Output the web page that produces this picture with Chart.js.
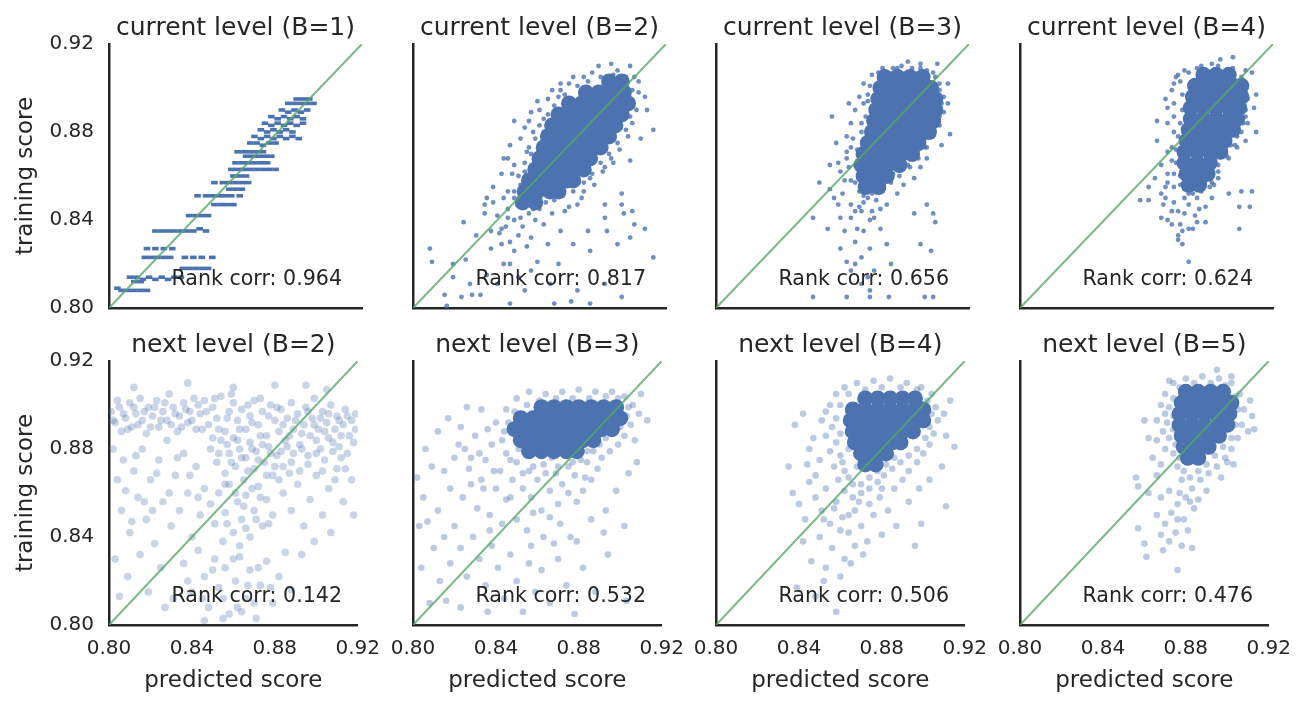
<!DOCTYPE html>
<html>
<head>
<meta charset="utf-8">
<script src="https://cdn.jsdelivr.net/npm/chart.js@4.4.1/dist/chart.umd.min.js"></script>
<style>
    html, body { margin: 0; padding: 0; background: #fff; width: 1310px; height: 708px; overflow: hidden; }
    #wrap { position: relative; width: 1310px; height: 708px; }
    canvas { position: absolute; }
</style>
</head>
<body>
<div id="wrap"></div>
<script>
// Axis ticks and reference line
const tickValues = [0.80, 0.84, 0.88, 0.92];
const diagonal = [0.80, 0.92];

const panelTitles = [
    'current level (B=1)', 'current level (B=2)', 'current level (B=3)', 'current level (B=4)',
    'next level (B=2)', 'next level (B=3)', 'next level (B=4)', 'next level (B=5)'
];
const rankCorr = [0.964, 0.817, 0.656, 0.624, 0.142, 0.532, 0.506, 0.476];

// [predicted, training] pairs
const curB1 = [
    [0.804,0.809],[0.806,0.808],[0.809,0.808],[0.812,0.808],[0.815,0.808],[0.818,0.808],
    [0.810,0.814],[0.812,0.812],[0.813,0.814],[0.815,0.812],[0.816,0.813],[0.819,0.814],[0.822,0.813],[0.825,0.814],[0.828,0.813],[0.831,0.814],[0.834,0.814],
    [0.835,0.818],[0.838,0.818],[0.841,0.818],[0.844,0.818],[0.847,0.818],
    [0.817,0.823],[0.820,0.823],[0.823,0.823],[0.826,0.823],[0.829,0.823],[0.836,0.823],[0.840,0.823],[0.844,0.823],[0.849,0.823],
    [0.818,0.827],[0.822,0.827],[0.826,0.827],[0.830,0.827],
    [0.822,0.835],[0.825,0.835],[0.828,0.835],[0.831,0.835],[0.834,0.835],[0.837,0.835],[0.840,0.835],[0.843,0.836],[0.846,0.835],
    [0.838,0.842],[0.841,0.842],[0.844,0.842],[0.847,0.842],
    [0.850,0.847],[0.853,0.847],[0.856,0.847],[0.859,0.847],
    [0.842,0.851],[0.846,0.851],[0.849,0.851],[0.852,0.851],[0.855,0.851],[0.858,0.851],[0.862,0.851],
    [0.857,0.854],[0.860,0.854],[0.863,0.854],
    [0.850,0.857],[0.854,0.857],[0.857,0.857],[0.860,0.857],[0.863,0.857],[0.866,0.857],
    [0.859,0.860],[0.862,0.860],[0.865,0.860],
    [0.858,0.863],[0.861,0.863],[0.864,0.863],[0.867,0.863],[0.870,0.863],[0.873,0.863],[0.876,0.863],[0.879,0.863],
    [0.860,0.866],[0.863,0.866],[0.866,0.866],[0.869,0.866],[0.872,0.866],[0.875,0.866],
    [0.865,0.869],[0.868,0.869],[0.871,0.869],[0.874,0.869],[0.877,0.869],
    [0.861,0.871],[0.864,0.871],[0.867,0.871],[0.870,0.871],[0.873,0.871],
    [0.867,0.875],[0.870,0.875],[0.873,0.874],[0.876,0.875],[0.879,0.875],
    [0.869,0.878],[0.872,0.877],[0.875,0.878],[0.878,0.877],[0.881,0.878],[0.884,0.877],[0.887,0.878],[0.890,0.877],
    [0.872,0.881],[0.875,0.880],[0.878,0.881],[0.881,0.880],[0.884,0.881],[0.887,0.880],
    [0.874,0.884],[0.877,0.883],[0.880,0.884],[0.883,0.883],[0.886,0.884],[0.889,0.883],[0.892,0.884],
    [0.877,0.887],[0.880,0.886],[0.883,0.887],[0.886,0.886],[0.889,0.887],[0.892,0.886],
    [0.882,0.890],[0.885,0.889],[0.888,0.890],[0.891,0.889],[0.894,0.890],
    [0.885,0.893],[0.888,0.893],[0.891,0.893],[0.894,0.893],[0.897,0.893],
    [0.889,0.895],[0.892,0.895],[0.895,0.895]
];

const curB2Core = [
    [0.893,0.903],[0.899,0.903],
    [0.882,0.898],[0.888,0.898],[0.894,0.898],[0.900,0.898],
    [0.874,0.893],[0.880,0.893],[0.886,0.893],[0.892,0.893],[0.898,0.893],[0.902,0.893],
    [0.869,0.888],[0.875,0.888],[0.881,0.888],[0.887,0.888],[0.893,0.888],[0.899,0.888],
    [0.866,0.883],[0.872,0.883],[0.878,0.883],[0.884,0.883],[0.890,0.883],[0.896,0.883],
    [0.864,0.878],[0.870,0.878],[0.876,0.878],[0.882,0.878],[0.888,0.878],[0.893,0.878],
    [0.862,0.873],[0.868,0.873],[0.874,0.873],[0.880,0.873],[0.886,0.873],[0.889,0.873],
    [0.860,0.868],[0.866,0.868],[0.872,0.868],[0.878,0.868],[0.884,0.868],
    [0.858,0.863],[0.864,0.863],[0.870,0.863],[0.876,0.863],[0.881,0.863],
    [0.855,0.858],[0.861,0.858],[0.867,0.858],[0.873,0.858],[0.876,0.858],
    [0.853,0.853],[0.859,0.853],[0.865,0.853],[0.869,0.853],
    [0.852,0.848],[0.858,0.848]
];
const curB2 = [
    [0.808,0.827],[0.809,0.821],[0.819,0.820],[0.825,0.822],[0.816,0.801],[0.815,0.806],[0.824,0.839],[0.830,0.833],
    [0.834,0.843],[0.838,0.848],[0.837,0.835],[0.842,0.829],[0.843,0.820],[0.848,0.826],[0.850,0.814],[0.853,0.808],
    [0.840,0.811],[0.832,0.806],[0.828,0.806],[0.823,0.805],[0.846,0.802],[0.859,0.821],[0.864,0.829],[0.870,0.835],
    [0.869,0.820],[0.876,0.829],[0.883,0.835],[0.884,0.826],[0.891,0.847],[0.892,0.835],[0.899,0.852],[0.900,0.843],
    [0.904,0.844],[0.905,0.838],[0.910,0.836],[0.914,0.823],[0.899,0.805],[0.884,0.802],[0.875,0.803],[0.867,0.802],
    [0.891,0.864],[0.894,0.868],[0.903,0.867],[0.908,0.877],[0.914,0.881],[0.911,0.890],[0.910,0.896],[0.907,0.903],
    [0.903,0.910],[0.894,0.911],[0.888,0.910],[0.881,0.905],[0.870,0.899],[0.869,0.896],[0.859,0.894],[0.856,0.889],
    [0.848,0.885],[0.853,0.882],[0.846,0.874],[0.843,0.868],[0.848,0.865],[0.842,0.861],[0.838,0.855],[0.835,0.850],
    [0.834,0.847],[0.845,0.853],[0.854,0.871],[0.862,0.880],[0.884,0.859],[0.881,0.853],[0.878,0.847],[0.872,0.844],
    [0.862,0.838],[0.856,0.832],[0.851,0.841],[0.845,0.841],[0.842,0.836],[0.837,0.827],[0.846,0.820],[0.856,0.817],
    [0.835,0.815],[0.827,0.811],[0.819,0.814],[0.865,0.811],[0.878,0.808],[0.891,0.811],[0.897,0.829],[0.903,0.832],
    [0.891,0.841],[0.899,0.847],
    [0.860,0.890],[0.864,0.895],[0.870,0.902],[0.876,0.905],[0.885,0.907],[0.897,0.908],[0.905,0.905],[0.907,0.898],
    [0.906,0.890],[0.904,0.884],[0.902,0.878],[0.898,0.872],[0.895,0.866],[0.890,0.862],[0.886,0.856],[0.880,0.850],
    [0.874,0.846],[0.866,0.843],[0.857,0.845],[0.851,0.848],[0.848,0.853],[0.850,0.860],[0.853,0.866],[0.855,0.873],
    [0.857,0.880],[0.862,0.886],
    [0.845,0.845],[0.848,0.840],[0.852,0.837],[0.855,0.843],[0.858,0.840],[0.844,0.837],[0.840,0.842],[0.850,0.833],
    [0.846,0.830],[0.841,0.834],[0.854,0.828],[0.860,0.845],[0.863,0.848],[0.867,0.849],[0.871,0.851],[0.876,0.853],
    [0.881,0.857],[0.885,0.861],[0.889,0.866],[0.893,0.870],[0.897,0.875],[0.901,0.881],[0.903,0.887],[0.904,0.893],
    [0.904,0.899],[0.901,0.905],[0.895,0.906],[0.889,0.905],[0.883,0.903],[0.878,0.901],[0.872,0.897],[0.867,0.892],
    [0.864,0.888],[0.860,0.883],[0.858,0.877],[0.856,0.870],[0.853,0.862],[0.851,0.856],[0.848,0.850],[0.843,0.850],
    [0.847,0.861],[0.845,0.868],[0.851,0.877],[0.855,0.885],[0.866,0.899],[0.874,0.902]
];

const curB3Core = [
    [0.880,0.905],[0.886,0.905],[0.892,0.905],[0.898,0.905],
    [0.878,0.900],[0.884,0.900],[0.890,0.900],[0.896,0.900],[0.902,0.900],
    [0.877,0.895],[0.883,0.895],[0.889,0.895],[0.895,0.895],[0.901,0.895],[0.904,0.895],
    [0.876,0.890],[0.882,0.890],[0.888,0.890],[0.894,0.890],[0.900,0.890],[0.904,0.890],
    [0.875,0.885],[0.881,0.885],[0.887,0.885],[0.893,0.885],[0.899,0.885],[0.903,0.885],
    [0.874,0.880],[0.880,0.880],[0.886,0.880],[0.892,0.880],[0.898,0.880],[0.901,0.880],
    [0.872,0.875],[0.878,0.875],[0.884,0.875],[0.890,0.875],[0.896,0.875],
    [0.870,0.870],[0.876,0.870],[0.882,0.870],[0.888,0.870],[0.893,0.870],
    [0.869,0.865],[0.875,0.865],[0.881,0.865],[0.887,0.865],
    [0.870,0.860],[0.876,0.860],[0.881,0.860],
    [0.871,0.855],[0.877,0.855]
];
const curB3 = [
    [0.872,0.850],[0.878,0.853],[0.869,0.844],[0.875,0.841],[0.864,0.841],[0.861,0.835],[0.870,0.835],[0.878,0.836],
    [0.866,0.830],[0.873,0.827],[0.869,0.823],[0.862,0.821],[0.864,0.817],[0.872,0.814],[0.869,0.811],[0.873,0.808],
    [0.873,0.805],[0.882,0.805],[0.862,0.805],[0.846,0.805],[0.899,0.805],[0.903,0.805],[0.881,0.829],[0.859,0.841],
    [0.853,0.836],[0.846,0.841],[0.849,0.857],[0.854,0.854],[0.858,0.847],[0.856,0.850],[0.861,0.858],[0.859,0.862],
    [0.862,0.868],[0.864,0.873],[0.865,0.877],[0.869,0.884],[0.870,0.893],[0.872,0.897],[0.863,0.893],[0.855,0.887],
    [0.857,0.875],[0.854,0.865],[0.881,0.847],[0.886,0.852],[0.889,0.856],[0.894,0.859],[0.900,0.868],[0.907,0.874],
    [0.911,0.879],[0.910,0.893],[0.910,0.902],[0.905,0.911],[0.897,0.911],[0.891,0.912],[0.886,0.909],[0.878,0.905],
    [0.900,0.847],[0.903,0.843],[0.904,0.839],[0.897,0.829],[0.902,0.826],[0.894,0.843],[0.883,0.820],[0.875,0.817],
    [0.866,0.820],[0.859,0.827],[0.864,0.847],[0.868,0.863],[0.891,0.865],[0.897,0.864],[0.899,0.873],
    [0.866,0.857],[0.872,0.855],[0.878,0.858],[0.884,0.861],[0.888,0.864],[0.893,0.868],[0.896,0.872],[0.899,0.877],
    [0.903,0.882],[0.906,0.887],[0.907,0.893],[0.906,0.899],[0.904,0.905],[0.900,0.908],[0.893,0.909],[0.884,0.909],
    [0.877,0.907],[0.873,0.901],[0.872,0.894],[0.871,0.887],[0.869,0.880],[0.867,0.872],[0.866,0.865],[0.870,0.851],
    [0.876,0.849],[0.868,0.846],[0.874,0.844],
    [0.862,0.878],[0.864,0.884],[0.866,0.890],[0.868,0.896],[0.870,0.902],[0.874,0.906],[0.879,0.909],[0.888,0.910],
    [0.897,0.909],[0.903,0.907],[0.906,0.902],[0.908,0.896],[0.908,0.889],[0.906,0.883],[0.903,0.878],[0.900,0.873],
    [0.896,0.868],[0.892,0.864],[0.887,0.860],[0.883,0.857],[0.879,0.853],[0.874,0.852],[0.868,0.853],[0.864,0.858],
    [0.863,0.864],[0.862,0.871],[0.870,0.848],[0.866,0.844],[0.873,0.840],[0.878,0.845],[0.867,0.836],[0.860,0.852],
    [0.858,0.866]
];

const curB4Core = [
    [0.887,0.906],[0.893,0.906],[0.899,0.906],
    [0.883,0.901],[0.889,0.901],[0.895,0.901],[0.901,0.901],[0.905,0.901],
    [0.882,0.896],[0.888,0.896],[0.894,0.896],[0.900,0.896],[0.905,0.896],
    [0.881,0.891],[0.887,0.891],[0.893,0.891],[0.899,0.891],[0.904,0.891],
    [0.881,0.886],[0.887,0.886],[0.893,0.886],[0.899,0.886],[0.903,0.886],
    [0.880,0.881],[0.886,0.881],[0.892,0.881],[0.898,0.881],[0.901,0.881],
    [0.879,0.876],[0.885,0.876],[0.891,0.876],[0.897,0.876],
    [0.878,0.871],[0.884,0.871],[0.890,0.871],[0.895,0.871],
    [0.878,0.866],[0.884,0.866],[0.890,0.866],
    [0.879,0.861],[0.885,0.861],[0.889,0.861],
    [0.880,0.856],[0.885,0.856]
];
const curB4 = [
    [0.857,0.849],[0.861,0.849],[0.864,0.859],[0.861,0.855],[0.869,0.855],[0.869,0.850],[0.868,0.847],[0.872,0.844],
    [0.870,0.840],[0.875,0.844],[0.876,0.838],[0.880,0.836],[0.882,0.836],[0.884,0.839],[0.888,0.839],[0.875,0.833],
    [0.877,0.829],[0.877,0.835],[0.880,0.821],[0.875,0.831],[0.891,0.850],[0.890,0.855],[0.894,0.859],[0.888,0.858],
    [0.899,0.852],[0.905,0.853],[0.910,0.853],[0.904,0.846],[0.909,0.846],[0.904,0.836],[0.867,0.865],[0.870,0.871],
    [0.865,0.876],[0.870,0.884],[0.865,0.885],[0.870,0.891],[0.869,0.895],[0.873,0.902],[0.875,0.906],[0.884,0.909],
    [0.891,0.911],[0.895,0.913],[0.901,0.914],[0.907,0.908],[0.910,0.907],[0.912,0.897],[0.911,0.891],[0.912,0.880],
    [0.908,0.884],[0.907,0.876],[0.903,0.873],[0.899,0.868],[0.894,0.865],[0.870,0.861],[0.873,0.855],[0.881,0.855],
    [0.884,0.850],[0.878,0.850],[0.867,0.841],[0.888,0.846],[0.892,0.856],
    [0.874,0.905],[0.878,0.908],[0.906,0.903],[0.908,0.895],[0.907,0.887],[0.905,0.880],[0.902,0.874],[0.898,0.869],
    [0.894,0.862],[0.891,0.857],[0.876,0.860],[0.874,0.866],[0.874,0.872],[0.875,0.878],[0.876,0.884],[0.877,0.890],
    [0.877,0.897],[0.882,0.852],[0.886,0.853],[0.878,0.854],
    [0.872,0.899],[0.873,0.893],[0.873,0.887],[0.873,0.880],[0.872,0.873],[0.872,0.867],[0.873,0.861],[0.876,0.856],
    [0.880,0.852],[0.884,0.857],[0.888,0.862],[0.892,0.866],[0.896,0.870],[0.900,0.874],[0.903,0.878],[0.906,0.884],
    [0.907,0.890],[0.907,0.898],[0.905,0.905],[0.901,0.909],[0.894,0.910],[0.886,0.910],[0.880,0.907],[0.876,0.903],
    [0.870,0.857],[0.867,0.852],[0.873,0.848],[0.878,0.843],[0.872,0.838],[0.880,0.847],[0.885,0.845],[0.883,0.842]
];

const nextB2 = [
    [0.801,0.897],[0.803,0.892],[0.805,0.899],[0.806,0.888],[0.808,0.894],[0.810,0.901],[0.811,0.890],[0.813,0.896],
    [0.815,0.903],[0.816,0.893],[0.818,0.887],[0.819,0.899],[0.821,0.895],[0.823,0.902],[0.824,0.890],[0.826,0.897],
    [0.828,0.893],[0.829,0.905],[0.831,0.899],[0.833,0.888],[0.834,0.895],[0.836,0.901],[0.838,0.892],[0.839,0.897],
    [0.841,0.903],[0.842,0.889],
    [0.844,0.896],[0.846,0.902],[0.848,0.891],[0.850,0.899],[0.852,0.894],[0.854,0.904],[0.856,0.888],[0.858,0.897],
    [0.860,0.901],[0.862,0.893],[0.864,0.898],[0.866,0.889],[0.868,0.895],[0.870,0.902],[0.872,0.891],[0.874,0.897],
    [0.876,0.886],[0.878,0.900],
    [0.880,0.893],[0.882,0.888],[0.883,0.898],[0.885,0.884],[0.886,0.894],[0.888,0.901],[0.889,0.889],[0.891,0.896],
    [0.892,0.882],[0.894,0.891],[0.895,0.899],[0.897,0.886],[0.898,0.894],[0.899,0.903],[0.901,0.889],[0.902,0.880],
    [0.903,0.897],[0.905,0.892],[0.906,0.885],[0.907,0.900],[0.909,0.889],[0.910,0.895],[0.911,0.881],[0.913,0.891],
    [0.914,0.898],[0.916,0.886],[0.917,0.893],[0.919,0.889],[0.896,0.877],[0.904,0.875],[0.912,0.876],[0.889,0.878],
    [0.849,0.880],[0.852,0.874],[0.854,0.884],[0.856,0.869],[0.858,0.878],[0.860,0.885],[0.861,0.872],[0.863,0.880],
    [0.865,0.866],[0.866,0.876],[0.868,0.883],[0.870,0.871],[0.871,0.879],[0.873,0.886],[0.875,0.874],[0.877,0.881],
    [0.879,0.868],[0.881,0.877],[0.884,0.872],[0.887,0.869],
    [0.846,0.862],[0.849,0.855],[0.851,0.846],[0.853,0.860],[0.856,0.851],[0.858,0.864],[0.860,0.842],[0.862,0.856],
    [0.864,0.848],[0.866,0.859],[0.868,0.840],[0.870,0.852],[0.872,0.863],[0.874,0.845],[0.876,0.857],[0.879,0.850],
    [0.855,0.838],[0.863,0.836],
    [0.836,0.828],[0.840,0.815],[0.843,0.834],[0.846,0.822],[0.848,0.808],[0.851,0.830],[0.853,0.817],[0.856,0.826],
    [0.858,0.805],[0.861,0.820],[0.863,0.831],[0.866,0.812],[0.868,0.825],[0.871,0.803],[0.873,0.818],[0.876,0.829],
    [0.879,0.810],[0.882,0.822],[0.885,0.833],[0.888,0.816],[0.846,0.802],[0.864,0.806],
    [0.884,0.860],[0.888,0.852],[0.891,0.864],[0.894,0.845],[0.897,0.857],[0.900,0.868],[0.903,0.850],[0.906,0.862],
    [0.910,0.871],[0.913,0.856],[0.917,0.866],[0.899,0.838],[0.907,0.842],[0.893,0.832],[0.918,0.850],
    [0.802,0.880],[0.804,0.866],[0.806,0.852],[0.807,0.875],[0.810,0.842],[0.812,0.870],[0.814,0.858],[0.816,0.880],
    [0.818,0.848],[0.820,0.866],[0.822,0.837],[0.824,0.875],[0.826,0.856],[0.828,0.884],[0.830,0.845],[0.832,0.868],
    [0.834,0.852],[0.836,0.878],[0.838,0.860],[0.840,0.840],[0.842,0.872],[0.844,0.850],[0.803,0.830],[0.809,0.822],
    [0.815,0.832],[0.819,0.815],[0.825,0.826],[0.831,0.812],[0.827,0.808],[0.805,0.813],
    [0.812,0.908],[0.838,0.910],[0.860,0.908],[0.880,0.909],[0.895,0.909],[0.905,0.907],
    [0.802,0.893],[0.804,0.902],[0.807,0.896],[0.809,0.889],[0.812,0.899],[0.814,0.891],[0.817,0.897],[0.820,0.890],
    [0.822,0.899],[0.825,0.893],[0.827,0.901],[0.830,0.891],[0.832,0.896],[0.835,0.890],[0.837,0.898],[0.840,0.893],
    [0.843,0.900],[0.845,0.889],[0.847,0.897],[0.851,0.903],[0.853,0.889],[0.857,0.894],[0.859,0.905],[0.863,0.889],
    [0.867,0.900],[0.869,0.892],[0.873,0.903],[0.877,0.895],
    [0.881,0.899],[0.884,0.891],[0.887,0.886],[0.890,0.893],[0.893,0.887],[0.896,0.897],[0.899,0.891],[0.900,0.884],
    [0.902,0.894],[0.904,0.888],[0.906,0.896],[0.908,0.883],[0.911,0.893],[0.912,0.886],[0.915,0.895],[0.918,0.883],
    [0.893,0.880],[0.900,0.878],[0.908,0.879],[0.886,0.881],[0.915,0.878],[0.919,0.896],
    [0.850,0.885],[0.853,0.878],[0.857,0.882],[0.859,0.874],[0.862,0.884],[0.864,0.876],[0.867,0.870],[0.869,0.880],
    [0.872,0.875],[0.874,0.882],[0.876,0.868],[0.878,0.878],[0.880,0.872],[0.883,0.879],[0.856,0.864],[0.861,0.860],
    [0.865,0.854],[0.869,0.862],[0.873,0.858],[0.857,0.846],[0.866,0.844],[0.871,0.848],[0.877,0.846],[0.882,0.866],
    [0.888,0.874],[0.892,0.870],[0.896,0.873],[0.903,0.870],[0.909,0.866],[0.914,0.871],
    [0.838,0.820],[0.845,0.812],[0.850,0.825],[0.855,0.812],[0.860,0.830],[0.867,0.818],[0.872,0.826],[0.878,0.817],
    [0.855,0.803],[0.870,0.810],[0.862,0.808],
    [0.808,0.861],[0.813,0.877],[0.817,0.856],[0.823,0.869],[0.829,0.860],[0.833,0.876],[0.839,0.868],[0.843,0.858],
    [0.821,0.852],[0.811,0.847]
];

const nextB3Core = [
    [0.862,0.899],[0.868,0.899],[0.874,0.899],[0.880,0.899],[0.886,0.899],[0.892,0.899],[0.898,0.899],
    [0.852,0.894],[0.858,0.894],[0.864,0.894],[0.870,0.894],[0.876,0.894],[0.882,0.894],[0.888,0.894],[0.894,0.894],[0.900,0.894],
    [0.849,0.889],[0.855,0.889],[0.861,0.889],[0.867,0.889],[0.873,0.889],[0.879,0.889],[0.885,0.889],[0.891,0.889],[0.896,0.889],
    [0.852,0.884],[0.858,0.884],[0.864,0.884],[0.870,0.884],[0.876,0.884],[0.882,0.884],[0.887,0.884],
    [0.856,0.879],[0.862,0.879],[0.868,0.879],[0.874,0.879],[0.879,0.879]
];
const nextB3 = [
    [0.825,0.880],[0.830,0.886],[0.835,0.875],[0.838,0.882],[0.842,0.870],[0.845,0.878],[0.848,0.866],[0.850,0.874],
    [0.853,0.862],[0.856,0.870],[0.860,0.866],[0.863,0.873],[0.866,0.861],[0.869,0.869],[0.872,0.864],[0.875,0.872],
    [0.878,0.868],[0.881,0.875],[0.884,0.879],[0.840,0.892],[0.845,0.898],[0.850,0.903],[0.856,0.906],[0.864,0.905],
    [0.872,0.906],[0.880,0.907],[0.888,0.906],[0.896,0.906],[0.902,0.904],[0.906,0.900],[0.909,0.896],[0.905,0.891],
    [0.902,0.886],[0.899,0.882],[0.895,0.879],[0.891,0.876],[0.889,0.871],[0.886,0.866],[0.910,0.905],[0.913,0.893],
    [0.907,0.884],[0.882,0.861],[0.879,0.856],[0.870,0.855],[0.862,0.852],[0.857,0.858],[0.847,0.858],[0.840,0.862],
    [0.833,0.866],[0.827,0.871],[0.820,0.876],[0.815,0.870],[0.818,0.862],[0.824,0.858],[0.831,0.853],[0.837,0.850],
    [0.843,0.846],[0.850,0.848],[0.855,0.843],[0.863,0.840],[0.871,0.846],[0.876,0.840],[0.886,0.848],[0.893,0.852],
    [0.898,0.861],[0.904,0.869],[0.908,0.874],
    [0.802,0.867],[0.805,0.858],[0.807,0.847],[0.810,0.835],[0.812,0.852],[0.815,0.840],[0.818,0.828],[0.820,0.845],
    [0.823,0.835],[0.826,0.822],[0.829,0.840],[0.832,0.830],[0.835,0.818],[0.838,0.836],[0.841,0.826],[0.844,0.812],
    [0.847,0.832],[0.850,0.820],[0.853,0.806],[0.856,0.828],[0.859,0.815],[0.862,0.825],[0.866,0.810],[0.870,0.830],
    [0.874,0.818],[0.878,0.805],[0.882,0.826],[0.888,0.815],[0.894,0.832],[0.902,0.845],[0.903,0.811],[0.804,0.826],
    [0.808,0.810],[0.813,0.820],[0.803,0.845],[0.809,0.872],[0.806,0.880],[0.812,0.888],[0.817,0.894],[0.823,0.890],
    [0.833,0.898],[0.826,0.899],[0.816,0.811],[0.823,0.808],[0.836,0.806],[0.857,0.836],[0.868,0.837],[0.879,0.838],
    [0.892,0.842],
    [0.832,0.878],[0.836,0.889],[0.839,0.870],[0.843,0.884],[0.846,0.892],[0.847,0.875],[0.851,0.880],[0.853,0.869],
    [0.855,0.877],[0.858,0.872],[0.861,0.878],[0.864,0.869],[0.867,0.876],[0.870,0.872],[0.873,0.877],[0.877,0.874],
    [0.880,0.880],[0.884,0.874],[0.887,0.879],[0.890,0.882],[0.893,0.885],[0.897,0.888],[0.900,0.890],[0.903,0.895],
    [0.904,0.899],[0.899,0.903],[0.893,0.904],[0.885,0.903],[0.877,0.903],[0.869,0.903],[0.861,0.902],[0.855,0.900],
    [0.849,0.897],[0.844,0.888],[0.828,0.876],[0.834,0.862],[0.845,0.857],[0.858,0.851],[0.866,0.849],[0.875,0.860],
    [0.883,0.867],[0.828,0.864],[0.822,0.882],[0.837,0.843]
];

const nextB4Core = [
    [0.872,0.903],[0.878,0.903],[0.884,0.903],[0.890,0.903],[0.896,0.903],
    [0.866,0.898],[0.872,0.898],[0.878,0.898],[0.884,0.898],[0.890,0.898],[0.896,0.898],[0.900,0.898],
    [0.865,0.893],[0.871,0.893],[0.877,0.893],[0.883,0.893],[0.889,0.893],[0.895,0.893],[0.900,0.893],
    [0.866,0.888],[0.872,0.888],[0.878,0.888],[0.884,0.888],[0.890,0.888],[0.895,0.888],
    [0.867,0.883],[0.873,0.883],[0.879,0.883],[0.885,0.883],[0.889,0.883],
    [0.870,0.878],[0.876,0.878],[0.882,0.878],
    [0.872,0.873],[0.877,0.873]
];
const nextB4 = [
    [0.855,0.900],[0.858,0.905],[0.862,0.908],[0.868,0.910],[0.876,0.911],[0.884,0.912],[0.892,0.910],[0.899,0.908],
    [0.904,0.905],[0.906,0.899],[0.907,0.893],[0.905,0.887],[0.903,0.882],[0.900,0.878],[0.897,0.874],[0.893,0.870],
    [0.890,0.866],[0.886,0.862],[0.851,0.893],[0.853,0.886],[0.855,0.879],[0.857,0.872],[0.859,0.866],[0.862,0.861],
    [0.866,0.858],[0.870,0.864],[0.874,0.867],[0.878,0.870],[0.882,0.873],[0.886,0.876],[0.861,0.874],[0.864,0.880],
    [0.860,0.887],[0.858,0.894],[0.864,0.867],[0.868,0.872],
    [0.845,0.865],[0.848,0.858],[0.851,0.852],[0.855,0.846],[0.858,0.856],[0.861,0.849],[0.864,0.842],[0.867,0.852],
    [0.870,0.845],[0.873,0.838],[0.876,0.850],[0.879,0.858],[0.883,0.852],[0.887,0.845],[0.850,0.840],[0.856,0.835],
    [0.862,0.830],[0.867,0.836],[0.843,0.848],[0.840,0.855],[0.846,0.829],[0.853,0.826],[0.860,0.822],[0.865,0.828],
    [0.842,0.838],[0.871,0.832],[0.880,0.841],[0.893,0.856],[0.898,0.862],[0.903,0.866],[0.909,0.872],[0.911,0.886],
    [0.910,0.896],
    [0.858,0.806],[0.852,0.820],[0.839,0.817],[0.896,0.836],[0.899,0.846],[0.911,0.854],[0.915,0.881],[0.913,0.902],
    [0.842,0.896],[0.838,0.891],[0.837,0.860],[0.848,0.813],[0.835,0.872],[0.845,0.880],
    [0.853,0.897],[0.856,0.890],[0.858,0.883],[0.860,0.877],[0.862,0.870],[0.866,0.864],[0.870,0.860],[0.874,0.862],
    [0.878,0.865],[0.881,0.868],[0.885,0.871],[0.889,0.874],[0.893,0.877],[0.897,0.880],[0.901,0.885],[0.903,0.890],
    [0.904,0.896],[0.902,0.902],[0.897,0.907],[0.889,0.908],[0.880,0.908],[0.872,0.907],[0.864,0.905],[0.860,0.900],
    [0.850,0.875],[0.848,0.868],[0.853,0.862],[0.857,0.853],[0.864,0.850],[0.869,0.856],[0.874,0.855],[0.880,0.862],
    [0.847,0.885],[0.844,0.873],[0.852,0.848],[0.860,0.843]
];

const nextB5Core = [
    [0.880,0.906],[0.886,0.906],[0.892,0.906],[0.898,0.906],
    [0.878,0.901],[0.884,0.901],[0.890,0.901],[0.896,0.901],[0.902,0.901],
    [0.877,0.896],[0.883,0.896],[0.889,0.896],[0.895,0.896],[0.901,0.896],
    [0.877,0.891],[0.883,0.891],[0.889,0.891],[0.895,0.891],[0.900,0.891],
    [0.878,0.886],[0.884,0.886],[0.890,0.886],[0.896,0.886],
    [0.879,0.881],[0.885,0.881],[0.891,0.881],
    [0.881,0.876],[0.886,0.876]
];
const nextB5 = [
    [0.870,0.905],[0.872,0.899],[0.871,0.892],[0.872,0.885],[0.874,0.878],[0.876,0.872],[0.878,0.866],[0.874,0.910],
    [0.880,0.912],[0.888,0.913],[0.896,0.912],[0.902,0.910],[0.906,0.905],[0.908,0.898],[0.907,0.891],[0.905,0.885],
    [0.902,0.880],[0.899,0.876],[0.895,0.872],[0.891,0.869],[0.887,0.866],[0.883,0.862],[0.880,0.858],[0.876,0.855],
    [0.873,0.851],[0.879,0.848],[0.884,0.853],[0.870,0.846],[0.875,0.842],[0.881,0.843],[0.868,0.858],[0.866,0.868],
    [0.864,0.876],[0.866,0.884],[0.866,0.893],[0.868,0.900],[0.911,0.902],[0.910,0.888],[0.903,0.873],[0.897,0.867],
    [0.890,0.861],[0.886,0.857],[0.872,0.838],[0.878,0.836],[0.866,0.850],[0.862,0.860],
    [0.856,0.867],[0.857,0.863],[0.857,0.844],[0.860,0.837],[0.861,0.831],[0.869,0.834],[0.876,0.825],[0.883,0.835],
    [0.913,0.889],[0.912,0.895],[0.872,0.911],[0.895,0.916],[0.902,0.913],[0.900,0.874],[0.862,0.885],[0.860,0.893],
    [0.874,0.903],[0.874,0.895],[0.874,0.889],[0.875,0.882],[0.877,0.876],[0.879,0.870],[0.882,0.867],[0.886,0.870],
    [0.890,0.873],[0.894,0.877],[0.898,0.881],[0.902,0.885],[0.904,0.891],[0.905,0.898],[0.904,0.904],[0.899,0.909],
    [0.892,0.910],[0.884,0.910],[0.877,0.908],[0.870,0.880],[0.868,0.873],[0.872,0.861],[0.877,0.860],[0.882,0.856],
    [0.869,0.888],[0.870,0.896],[0.876,0.848],[0.868,0.841]
];

// Panel setup: which arrays go where and how the marks look
const blue = 'rgba(76,114,176,1)';
const panels = [
    { core: [], spread: curB1, spreadRadius: 3.3, spreadColor: blue, spreadStyle: 'line' },
    { core: curB2Core, spread: curB2, spreadRadius: 2.4, spreadColor: 'rgba(76,114,176,0.8)' },
    { core: curB3Core, spread: curB3, spreadRadius: 2.4, spreadColor: 'rgba(76,114,176,0.8)' },
    { core: curB4Core, spread: curB4, spreadRadius: 2.4, spreadColor: 'rgba(76,114,176,0.8)' },
    { core: [], spread: nextB2, spreadRadius: 3.8, spreadColor: 'rgba(76,114,176,0.3)' },
    { core: nextB3Core, spread: nextB3, spreadRadius: 3.3, spreadColor: 'rgba(76,114,176,0.38)' },
    { core: nextB4Core, spread: nextB4, spreadRadius: 3.3, spreadColor: 'rgba(76,114,176,0.38)' },
    { core: nextB5Core, spread: nextB5, spreadRadius: 3.3, spreadColor: 'rgba(76,114,176,0.38)' }
];

const colLeft = [109, 413, 716, 1020];
const rowTop = [44, 361];
const plotW = 253, plotH = 264;
const mLeft = 110, mTop = 50, mRight = 30, mBottom = 85;
const ink = '#262626';
const fontFamily = '"DejaVu Sans", sans-serif';

const panelText = {
    id: 'panelText',
    afterDraw(chart, args, opts) {
        const { ctx, chartArea: a } = chart;
        ctx.save();
        ctx.fillStyle = ink;
        ctx.font = '25px ' + fontFamily;
        ctx.textAlign = 'center';
        ctx.textBaseline = 'alphabetic';
        ctx.fillText(opts.title, (a.left + a.right) / 2, a.top - 9);
        ctx.font = '20.6px ' + fontFamily;
        ctx.textAlign = 'right';
        ctx.fillText('Rank corr: ' + opts.rank.toFixed(3), a.left + 233, a.bottom - 23);
        ctx.restore();
    }
};

const wrap = document.getElementById('wrap');

panels.forEach((p, i) => {
    const row = Math.floor(i / 4), col = i % 4;
    const canvas = document.createElement('canvas');
    canvas.width = mLeft + plotW + mRight;
    canvas.height = mTop + plotH + mBottom;
    canvas.style.left = (colLeft[col] - mLeft) + 'px';
    canvas.style.top = (rowTop[row] - mTop) + 'px';
    wrap.appendChild(canvas);

    const isLine = p.spreadStyle === 'line';

    new Chart(canvas.getContext('2d'), {
        type: 'scatter',
        data: {
            datasets: [
                {
                    type: 'line',
                    data: diagonal.map(v => ({ x: v, y: v })),
                    borderColor: 'rgba(85,168,104,0.8)',
                    borderWidth: 2,
                    pointRadius: 0,
                    order: 0,
                    clip: 0
                },
                {
                    data: p.spread,
                    pointStyle: isLine ? 'line' : 'circle',
                    pointRadius: p.spreadRadius,
                    pointBorderWidth: isLine ? 3.6 : 0,
                    pointBorderColor: p.spreadColor,
                    pointBackgroundColor: p.spreadColor,
                    order: 1,
                    clip: 0
                },
                {
                    data: p.core,
                    pointRadius: 8,
                    pointBorderWidth: 0,
                    pointBackgroundColor: blue,
                    order: 2,
                    clip: 0
                }
            ]
        },
        options: {
            responsive: false,
            animation: false,
            events: [],
            layout: { padding: { top: mTop, right: mRight, left: 0, bottom: 0 } },
            plugins: {
                legend: { display: false },
                tooltip: { enabled: false },
                panelText: { title: panelTitles[i], rank: rankCorr[i] }
            },
            scales: {
                x: {
                    type: 'linear',
                    min: tickValues[0],
                    max: tickValues[tickValues.length - 1],
                    afterBuildTicks: s => { s.ticks = tickValues.map(v => ({ value: v })); },
                    afterFit: s => { s.height = mBottom; },
                    grid: { display: false, drawTicks: false },
                    border: { display: true, color: ink, width: 2.5 },
                    ticks: {
                        display: row === 1,
                        padding: 12,
                        maxRotation: 0,
                        autoSkip: false,
                        color: ink,
                        font: { family: fontFamily, size: 20 },
                        callback: v => v.toFixed(2)
                    },
                    title: {
                        display: row === 1,
                        text: 'predicted score',
                        color: ink,
                        font: { family: fontFamily, size: 23 },
                        padding: { bottom: 15 }
                    }
                },
                y: {
                    type: 'linear',
                    min: tickValues[0],
                    max: tickValues[tickValues.length - 1],
                    afterBuildTicks: s => { s.ticks = tickValues.map(v => ({ value: v })); },
                    afterFit: s => { s.width = mLeft; },
                    grid: { display: false, drawTicks: false },
                    border: { display: true, color: ink, width: 2.5 },
                    ticks: {
                        display: col === 0,
                        padding: 15,
                        autoSkip: false,
                        color: ink,
                        font: { family: fontFamily, size: 20 },
                        callback: v => v.toFixed(2)
                    },
                    title: {
                        display: col === 0,
                        text: 'training score',
                        color: ink,
                        font: { family: fontFamily, size: 23 },
                        padding: { top: 13 }
                    }
                }
            }
        },
        plugins: [panelText]
    });
});
</script>
</body>
</html>
